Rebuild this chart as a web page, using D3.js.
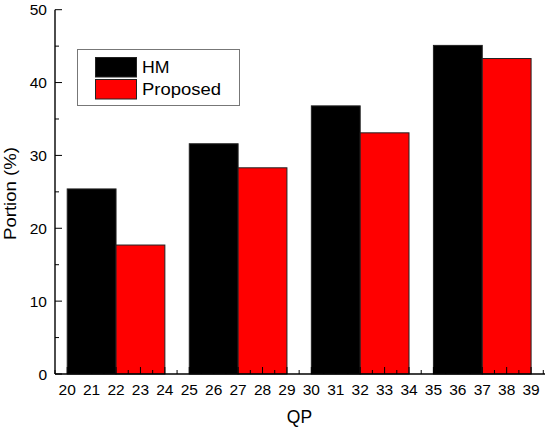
<!DOCTYPE html>
<html><head><meta charset="utf-8">
<script src="https://cdn.jsdelivr.net/npm/d3@7"></script>
<style>body{margin:0;background:#fff}svg{display:block}text{font-family:"Liberation Sans",Arial,sans-serif}</style>
</head><body><svg id="c" width="550" height="429"></svg>
<script>
const groups = [20, 25, 30, 35];
const seriesNames = ["HM", "Proposed"];
const seriesColors = ["#000000", "#ff0000"];
const hmValues = [25.4, 31.6, 36.8, 45.1];
const proposedValues = [17.7, 28.3, 33.1, 43.3];
const xTickLabels = d3.range(20, 40);
const yTickLabels = [0, 10, 20, 30, 40, 50];

const svg = d3.select("#c");
const x = d3.scaleLinear().domain([19.5, 39.57]).range([55, 545]);
const y = d3.scaleLinear().domain([0, 50]).range([374, 9.7]);

const series = [hmValues, proposedValues];
series.forEach((vals, si) => {
  svg.append("g").selectAll("rect").data(vals).join("rect")
    .attr("x", (d, i) => x(groups[i] + si * 2))
    .attr("width", (d, i) => x(groups[i] + si * 2 + 2) - x(groups[i] + si * 2))
    .attr("y", d => y(d))
    .attr("height", d => y(0) - y(d))
    .attr("fill", seriesColors[si])
    .attr("stroke", "#222").attr("stroke-width", 1);
});

// X axis
const xa = svg.append("g").attr("transform", `translate(0,${y(0)})`);
xa.append("line").attr("x1", x.range()[0]).attr("x2", x.range()[1]).attr("stroke", "#000").attr("stroke-width", 1.4);
xa.selectAll("line.maj").data(xTickLabels).join("line").attr("class","maj")
  .attr("x1", d => x(d)).attr("x2", d => x(d)).attr("y1", 0).attr("y2", -7).attr("stroke", "#000");
xa.selectAll("line.min").data(d3.range(19.5, 39.6, 1)).join("line").attr("class","min")
  .attr("x1", d => x(d)).attr("x2", d => x(d)).attr("y1", 0).attr("y2", -4).attr("stroke", "#000");
xa.selectAll("text").data(xTickLabels).join("text")
  .attr("x", d => x(d)).attr("y", 21).attr("text-anchor", "middle")
  .attr("font-size", 15.5).text(d => d);

// Y axis
const ya = svg.append("g").attr("transform", `translate(${x.range()[0]},0)`);
ya.append("line").attr("y1", y(0)).attr("y2", y(50)).attr("stroke", "#000").attr("stroke-width", 1.4);
ya.selectAll("line.maj").data(yTickLabels).join("line").attr("class","maj")
  .attr("y1", d => y(d)).attr("y2", d => y(d)).attr("x1", 0).attr("x2", 7).attr("stroke", "#000");
ya.selectAll("line.min").data(d3.range(5, 50, 10)).join("line").attr("class","min")
  .attr("y1", d => y(d)).attr("y2", d => y(d)).attr("x1", 0).attr("x2", 4).attr("stroke", "#000");
ya.selectAll("text").data(yTickLabels).join("text")
  .attr("x", -8).attr("y", d => y(d)).attr("dy", "0.36em").attr("text-anchor", "end")
  .attr("font-size", 15.5).text(d => d);

svg.append("text").attr("transform", "translate(16,193.5) rotate(-90)")
  .attr("text-anchor", "middle").attr("font-size", 16.5)
  .attr("textLength", 93).attr("lengthAdjust", "spacingAndGlyphs").text("Portion (%)");
svg.append("text").attr("x", 299.5).attr("y", 422.5)
  .attr("text-anchor", "middle").attr("font-size", 17.5).text("QP");

// Legend
const lg = svg.append("g");
lg.append("rect").attr("x", 77.5).attr("y", 49.5).attr("width", 162).attr("height", 56)
  .attr("fill", "#fff").attr("stroke", "#777").attr("stroke-width", 1);
seriesNames.forEach((n, i) => {
  lg.append("rect").attr("x", 95.5).attr("y", 57.5 + i * 22).attr("width", 41).attr("height", 19.5)
    .attr("fill", seriesColors[i]).attr("stroke", "#222");
  lg.append("text").attr("x", 142).attr("y", 73.3 + i * 22).attr("font-size", 16.5)
    .attr("textLength", i === 0 ? 27.5 : 79).attr("lengthAdjust", "spacingAndGlyphs").text(n);
});
</script></body></html>
